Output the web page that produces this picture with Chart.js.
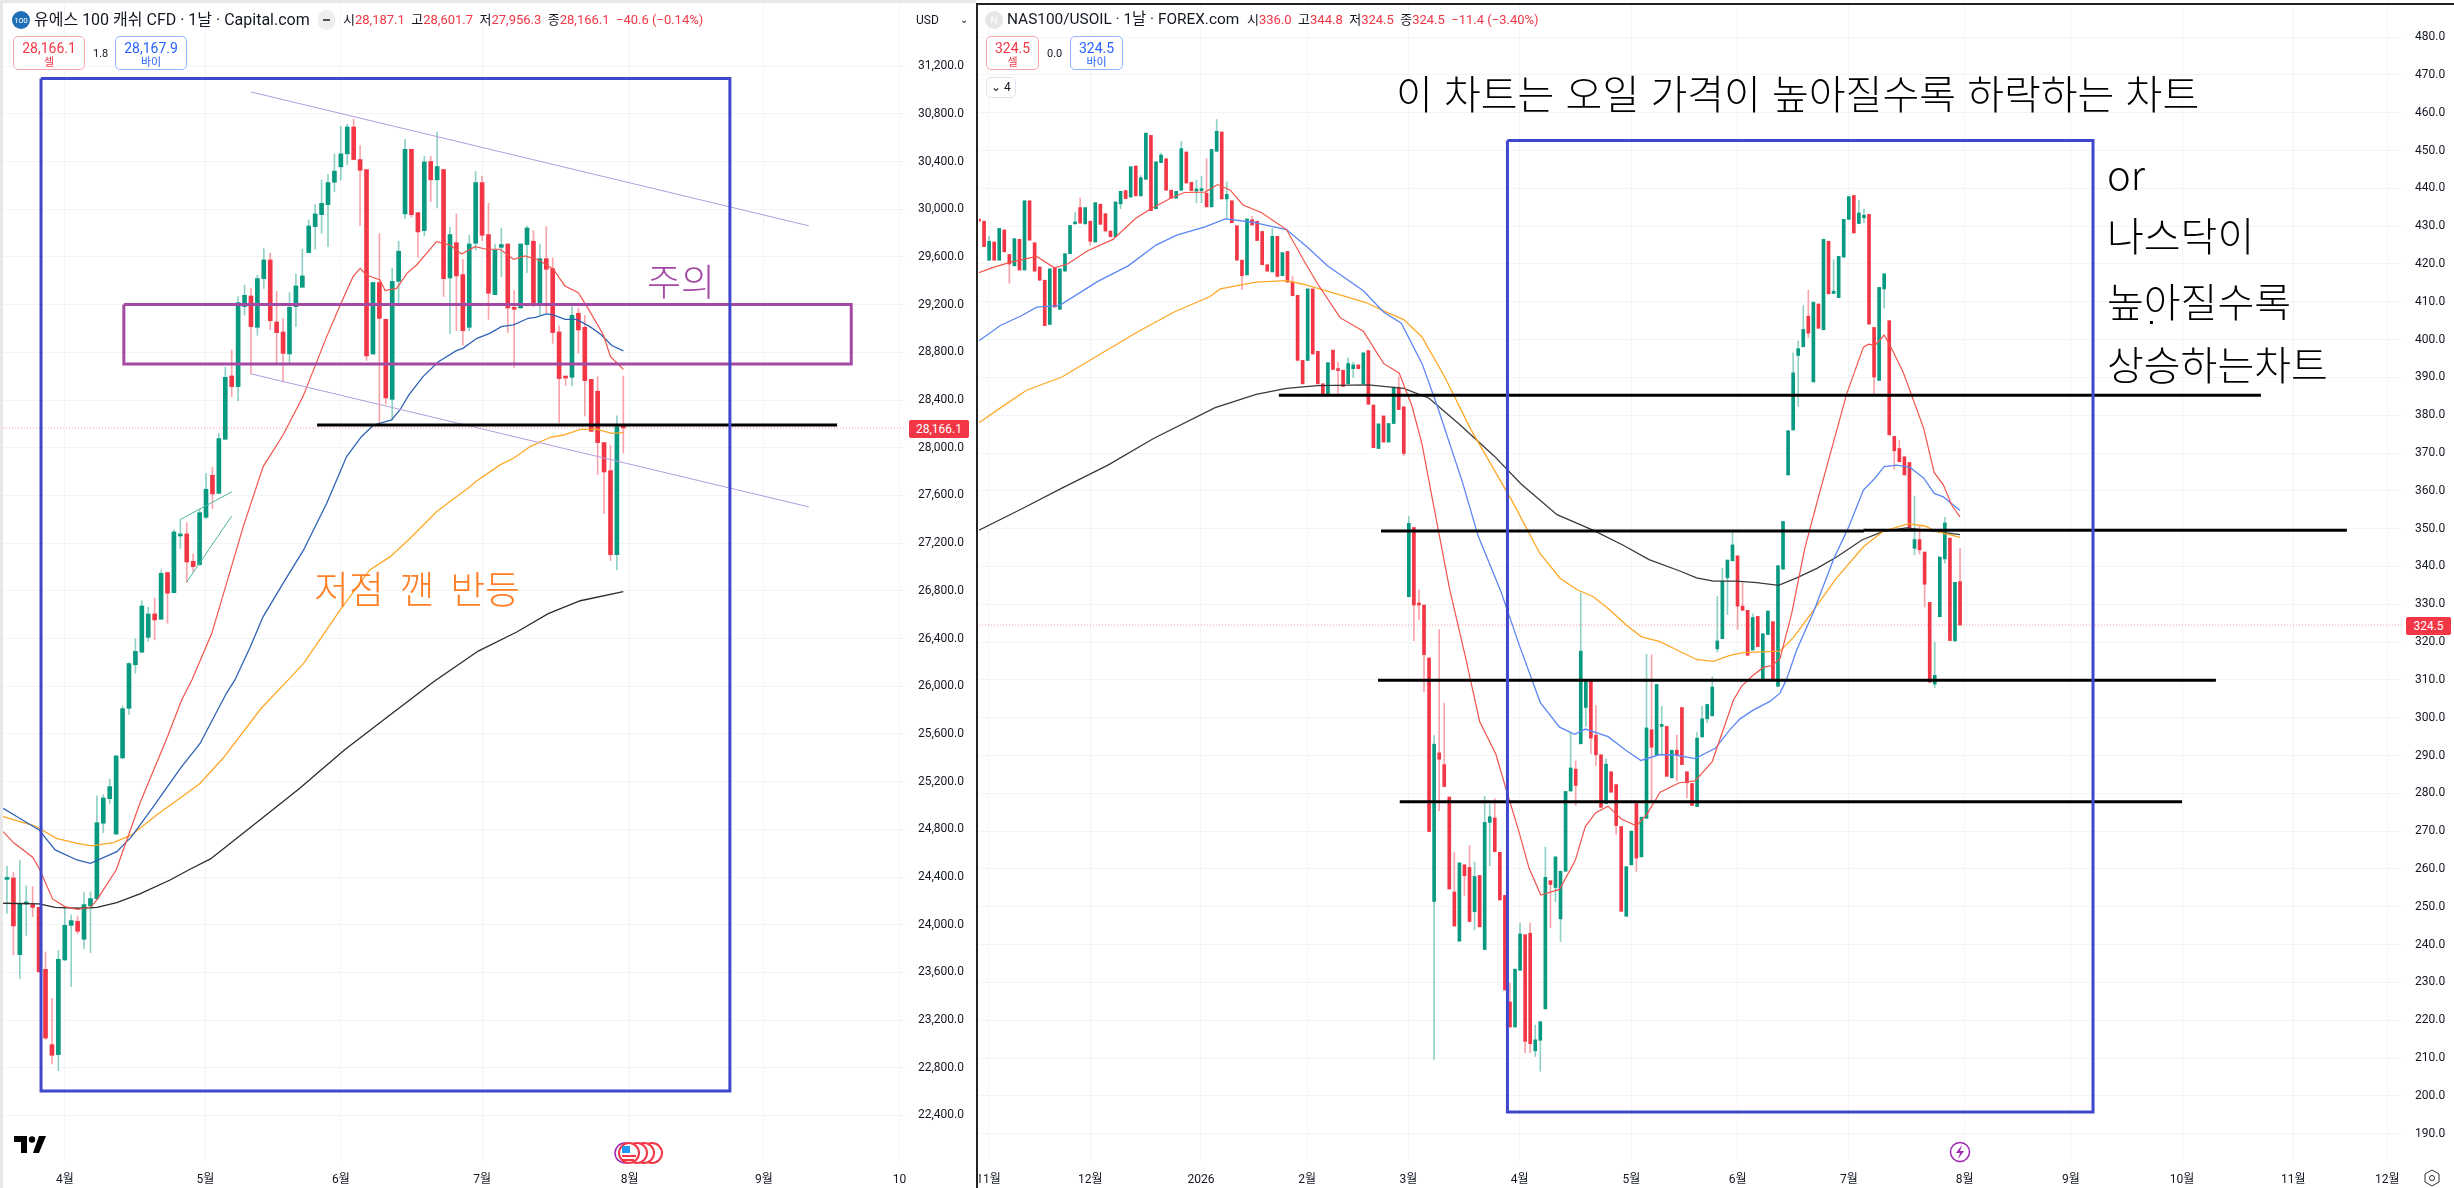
<!DOCTYPE html>
<html lang="ko">
<head>
<meta charset="UTF-8">
<title>NAS100 / USOIL</title>
<style>
  html, body { margin: 0; padding: 0; background: #fff; }
  body { width: 2454px; height: 1188px; overflow: hidden; position: relative;
         font-family: Roboto, "Noto Sans CJK KR", sans-serif; color: #131722; }
  canvas { position: absolute; top: 4px; }
  #leftChart { left: 3px; }
  #rightChart { left: 979px; }
  .strip { position: absolute; }
  .t { position: absolute; white-space: nowrap; line-height: 1; }
  .note { position: absolute; white-space: nowrap; line-height: 1; font-family: "Noto Sans CJK KR", sans-serif; font-weight: 300; }
  .red { color: #f23645; }
  .box { position: absolute; box-sizing: border-box; background: #fff; border-radius: 5px; text-align: center; font-size: 14px; padding-top: 4px; line-height: 15px; }
  .box small { display: block; font-size: 11px; line-height: 13px; }
  .tag { position: absolute; background: #f23645; color: #fff; font-size: 12px; text-align: center; border-radius: 2px; }
  svg { position: absolute; }
</style>
</head>
<body>
<div class="strip" style="left:0;top:0;width:3px;height:1188px;background:#e8e8e8"></div>
<div class="strip" style="left:0;top:0;width:976px;height:3px;background:#e8e8e8"></div>
<canvas id="leftChart" width="973" height="1184"></canvas>
<canvas id="rightChart" width="1475" height="1184"></canvas>
<div class="strip" style="left:976px;top:3px;width:2px;height:1185px;background:#222"></div>
<div class="strip" style="left:976px;top:3px;width:1478px;height:2px;background:#222"></div>

<!-- left header -->
<svg style="left:12px;top:11px" width="18" height="18"><circle cx="9" cy="9" r="9" fill="#1e6fb8"/><text x="9" y="12" font-size="8" fill="#fff" text-anchor="middle" font-family="Roboto">100</text></svg>
<div class="t" style="left:34px;top:12px;font-size:16px">유에스 100 캐쉬 CFD · 1날 · Capital.com</div>
<div class="t" style="left:318px;top:10px;width:17px;height:20px;border-radius:9px;background:#eee"></div>
<div class="t" style="left:323px;top:19px;width:7px;height:2px;background:#555"></div>
<div class="t" style="left:343px;top:13px;font-size:13px">시<span class="red">28,187.1</span>&nbsp; 고<span class="red">28,601.7</span>&nbsp; 저<span class="red">27,956.3</span>&nbsp; 종<span class="red">28,166.1</span>&nbsp; <span class="red">−40.6 (−0.14%)</span></div>
<div class="box red" style="left:13px;top:36px;width:72px;height:34px;border:1px solid #f7a5ad">28,166.1<small>셀</small></div>
<div class="t" style="left:93px;top:48px;font-size:11px">1.8</div>
<div class="box" style="left:115px;top:36px;width:72px;height:34px;border:1px solid #90b4ff;color:#2962ff">28,167.9<small>바이</small></div>
<div class="t" style="left:916px;top:14px;font-size:12px">USD</div>
<div class="t" style="left:960px;top:15px;font-size:10px">⌄</div>

<!-- right header -->
<svg style="left:985px;top:11px" width="18" height="18"><circle cx="9" cy="9" r="9" fill="#e6e6e6"/><text x="9" y="13" font-size="10" fill="#fff" text-anchor="middle" font-family="Roboto">N</text></svg>
<div class="t" style="left:1007px;top:12px;font-size:15.4px">NAS100/USOIL · 1날 · FOREX.com</div>
<div class="t" style="left:1247px;top:13px;font-size:13px">시<span class="red">336.0</span>&nbsp; 고<span class="red">344.8</span>&nbsp; 저<span class="red">324.5</span>&nbsp; 종<span class="red">324.5</span>&nbsp; <span class="red">−11.4 (−3.40%)</span></div>
<div class="box red" style="left:986px;top:36px;width:53px;height:34px;border:1px solid #f7a5ad">324.5<small>셀</small></div>
<div class="t" style="left:1047px;top:48px;font-size:11px">0.0</div>
<div class="box" style="left:1070px;top:36px;width:53px;height:34px;border:1px solid #90b4ff;color:#2962ff">324.5<small>바이</small></div>
<div class="box" style="left:986px;top:77px;width:30px;height:21px;border:1px solid #e0e3eb;padding-top:2px;font-size:12px">⌄ 4</div>

<!-- pasted notes -->
<div class="note" style="left:647px;top:262px;font-size:37px;color:#a349a4">주의</div>
<div class="note" style="left:314px;top:568px;font-size:38px;word-spacing:5px;color:#ff7f27">저점 깬 반등</div>
<div class="note" style="left:1396px;top:72px;font-size:40px;color:#000">이 차트는 오일 가격이 높아질수록 하락하는 차트</div>
<div class="note" style="left:2107px;top:153px;font-size:40px;color:#000">or</div>
<div class="note" style="left:2107px;top:214px;font-size:40px;color:#000">나스닥이</div>
<div class="note" style="left:2107px;top:280px;font-size:40px;color:#000">높아질수록</div>
<div class="note" style="left:2107px;top:343px;font-size:40px;color:#000">상승하는차트</div>
<div class="strip" style="left:2150px;top:321px;width:3px;height:3px;background:#000"></div>

<!-- price tags -->
<div class="tag" style="left:909px;top:420px;width:60px;height:18px;line-height:18px">28,166.1</div>
<div class="tag" style="left:2406px;top:617px;width:45px;height:18px;line-height:18px">324.5</div>

<!-- small icons -->
<svg style="left:14px;top:1135px" width="32" height="20" viewBox="0 0 32 20"><path d="M0 1h13v17H7V7H0z M19 18l6-17h7l-7 17z" fill="#000"/><circle cx="18" cy="4.5" r="3.2" fill="#000"/></svg>
<svg style="left:612px;top:1141px" width="56" height="24" viewBox="0 0 56 24">
  <circle cx="13" cy="12" r="10" fill="#fff" stroke="#9c27b0" stroke-width="1.5"/>
  <circle cx="40" cy="12" r="10" fill="#fff" stroke="#f23645" stroke-width="2"/>
  <circle cx="32" cy="12" r="10" fill="#fff" stroke="#f23645" stroke-width="2"/>
  <circle cx="25" cy="12" r="10" fill="#fff" stroke="#f23645" stroke-width="2"/>
  <circle cx="17" cy="12" r="10" fill="#fff" stroke="#f23645" stroke-width="2"/>
  <rect x="10" y="5" width="8" height="7" fill="#2196f3"/><rect x="10" y="14" width="14" height="2" fill="#f23645"/><rect x="10" y="18" width="12" height="2" fill="#f23645"/>
</svg>
<svg style="left:1949px;top:1141px" width="22" height="22" viewBox="0 0 22 22"><circle cx="11" cy="11" r="9.5" fill="#fff" stroke="#9c27b0" stroke-width="1.5"/><path d="M13 4l-6 8h4l-2 6 6-8h-4z" fill="#9c27b0"/></svg>
<svg style="left:2424px;top:1169px" width="16" height="18" viewBox="0 0 16 18"><path d="M8 1l7 4v8l-7 4-7-4V5z" fill="none" stroke="#333"/><circle cx="8" cy="9" r="2.5" fill="none" stroke="#333"/></svg>

<script src="https://cdn.jsdelivr.net/npm/chart.js"></script>
<script>
// left: US100 cash CFD, daily
const opensL = [24380,24392,23749,24174,24169,24146,23626,22994,22911,23705,23995,24029,23878,24157,24219,24851,25057,24761,25399,25815,26180,26286,26410,26606,26562,26953,26785,27260,27277,27048,27020,27417,27769,27618,28071,28602,28513,29184,29273,29010,29419,29575,29055,28971,28787,29184,29346,29637,29855,29955,30039,30227,30356,30465,30690,30417,30333,28786,29386,29077,28406,29396,29961,30503,29972,29821,30401,30247,30333,29424,29720,29452,29010,29715,30224,29788,29284,29681,29709,29178,29172,29704,29732,29217,29586,29502,28971,28591,28591,29128,29010,28574,28474,28043,27808,27104,28187]
const highsL = [24490,24437,24538,24325,24320,24146,23772,23380,23783,24152,24082,24073,24269,24275,25080,25091,25220,25420,25835,26199,26398,26717,26662,26740,26975,26958,27311,27400,27372,27109,27484,27786,27836,28121,28675,28820,29268,29363,29340,29446,29670,29631,29312,29083,29301,29458,29665,29911,30039,30246,30293,30465,30696,30715,30754,30535,30333,29386,29797,29077,29505,29732,30584,30503,29972,30446,30446,30648,30333,29849,29961,29581,29782,30317,30279,30050,29709,29843,29709,29318,29709,29860,29821,29709,29855,29592,29022,28591,29184,29172,29111,28574,28597,28043,28021,28267,28602]
const lowsL = [24095,23746,23548,23911,24068,23604,23039,22832,22776,23699,23481,23923,23800,23766,24208,24772,25018,24756,25393,25764,26110,26279,26377,26388,26562,26528,26785,27154,26869,26958,27014,27406,27490,27612,28071,28429,28395,29111,28619,28943,29335,28988,28708,28552,28703,29016,29346,29637,29665,29799,29687,30150,30247,30375,30417,29862,28732,28786,28209,28367,28233,29212,29924,29933,29597,29776,30064,30011,29268,28954,28982,28860,28982,29659,29737,29077,29284,29435,28966,28675,29172,29469,29184,29117,29133,28876,28211,28524,28518,28792,28267,28138,27775,27450,27054,26975,27956]
const closesL = [24390,23990,24180,24185,24146,23604,23050,22905,23710,23995,24034,23945,24169,24219,24856,25063,25158,25415,25812,26190,26292,26673,26606,26556,26947,26780,27294,27277,27042,27003,27456,27652,27613,28077,28591,28513,29217,29279,29016,29419,29575,29066,28966,28792,29178,29357,29441,29860,29961,30050,30224,30320,30465,30690,30417,30327,28770,29386,29085,28418,29396,29648,30503,29955,29810,30397,30247,30359,29418,29788,29441,28982,29709,30224,29782,29296,29659,29704,29172,29161,29709,29843,29200,29586,29497,28966,28580,28585,29111,28988,28563,28138,28043,27797,27104,28177,28166]

// moving averages, read as [bar, value]
const redL = [[-0.6,24781],[1,24689],[4,24566],[5,24473],[7.1,24216],[9,24152],[11,24129],[13,24146],[14,24208],[17,24459],[20.7,25018],[25,25577],[27.2,25885],[28.8,26053],[31.9,26444],[36.8,27339],[39.9,27842],[43,28107],[46.1,28429],[49.8,28932],[51.9,29198],[53.9,29435],[55,29505],[56,29449],[58.1,29407],[58.9,29318],[60.7,29337],[62.3,29463],[63.8,29533],[66.9,29729],[69,29701],[70.8,29625],[72.9,29687],[74.7,29665],[76.8,29665],[78.9,29581],[80.7,29609],[82.8,29575],[85.1,29497],[86.9,29357],[89,29301],[90.8,29142],[92.9,28946],[94,28764],[96,28658]]
const blueL = [[-0.6,24976],[1.5,24907],[5,24795],[7.5,24627],[10.9,24543],[13,24515],[17.1,24613],[19.4,24739],[22.8,24990],[27,25312],[30.1,25522],[31.7,25688],[34.2,25943],[35.5,26053],[37.9,26332],[39.9,26584],[43,26863],[46.2,27143],[49.8,27534],[52.9,27926],[55.2,28093],[57.1,28191],[59.9,28233],[61.2,28317],[62.6,28443],[64.8,28597],[67.2,28722],[70,28815],[71,28834],[73.2,28918],[75.2,28960],[77,29016],[78.9,29030],[81.2,29086],[82.3,29094],[84,29122],[85.1,29114],[86.9,29077],[88.7,29077],[90.8,29016],[92.6,28946],[94.2,28857],[96,28812]]
const orangeL = [[-0.6,24907],[2,24865],[4.4,24828],[7.7,24725],[10.9,24683],[13.2,24661],[16.6,24689],[19.4,24753],[23.3,24921],[28,25102],[30.1,25186],[33.7,25400],[39.6,25815],[43.8,26053],[46.2,26192],[51.9,26640],[56.5,26975],[59.7,27087],[62.8,27241],[66.9,27464],[70,27590],[71.8,27660],[73.2,27724],[76.8,27856],[78.9,27912],[81.5,28010],[84.6,28088],[86.7,28107],[89.3,28155],[91.9,28155],[94.2,28121],[96,28127]]
const blackL = [[-0.6,24180],[5,24174],[7.5,24146],[11.4,24138],[14,24146],[17.1,24185],[20.7,24258],[25.4,24375],[28.5,24465],[31.7,24552],[38.1,24824],[45.6,25144],[52.5,25464],[59.5,25752],[66.5,26039],[73.4,26295],[79.4,26455],[84.3,26609],[89.3,26717],[96,26794]]

// right: NAS100/USOIL, daily
const opensR = [431.9,431.3,421.0,425.8,421.0,429.0,422.5,419.5,426.5,418.4,436.7,425.6,419.2,415.7,404.0,418.9,408.0,418.1,422.7,430.6,434.9,430.6,431.3,425.8,435.8,433.3,428.7,427.2,435.9,439.4,437.7,445.9,438.0,442.4,454.0,434.6,446.8,447.8,439.5,437.4,439.5,449.6,441.6,439.3,439.4,438.7,435.1,449.8,454.9,437.2,436.7,430.1,421.0,417.1,431.7,431.3,428.6,419.8,417.9,427.3,416.9,423.3,415.2,411.7,394.5,394.5,413.4,396.9,388.3,385.2,397.2,392.1,391.9,388.3,392.3,393.3,388.3,397.1,382.7,371.2,379.8,372.9,377.8,387.4,382.2,332.0,350.3,330.2,329.8,315.8,251.4,290.7,287.6,279.0,253.9,240.9,261.1,260.4,248.7,258.3,238.7,272.3,273.5,264.4,253.0,224.8,218.2,233.2,242.6,243.0,211.9,214.7,223.0,256.9,255.1,246.8,259.4,280.6,286.4,293.1,302.7,309.6,295.4,290.2,277.3,285.7,282.3,271.2,247.5,261.1,277.3,263.2,273.4,296.8,290.2,297.7,297.7,284.1,291.4,302.7,285.7,282.6,276.5,294.9,299.7,300.5,318.2,320.9,337.0,341.5,342.8,329.5,328.4,317.9,326.8,310.2,322.0,325.4,308.3,339.3,364.2,376.1,395.8,398.1,406.2,388.8,409.4,402.6,426.0,412.2,411.1,421.8,431.8,438.1,430.7,432.2,433.1,403.2,389.2,413.4,405.0,374.4,371.2,369.0,367.5,344.8,347.1,343.8,330.5,308.9,326.7,342.0,347.5,320.3,336.0]
const highsR = [431.9,431.3,427.3,425.8,429.4,429.0,422.5,426.7,426.5,436.7,436.7,425.6,419.2,415.7,418.7,418.9,418.7,422.7,430.2,433.6,437.4,434.9,431.3,436.2,435.8,433.3,428.7,436.4,439.2,439.4,445.7,445.9,443.4,454.6,454.0,447.0,449.3,447.8,439.5,439.2,452.4,449.6,441.6,442.2,443.2,447.8,450.3,458.2,454.9,441.7,436.7,430.1,421.0,431.9,432.6,431.3,428.6,419.8,429.4,427.3,423.0,423.3,416.7,411.7,394.5,413.4,413.4,396.9,388.3,393.9,397.2,394.0,391.9,395.2,394.0,393.3,396.5,397.1,382.7,377.7,379.8,377.8,387.4,390.1,382.2,353.2,350.3,333.8,329.8,315.8,295.3,323.3,303.8,279.0,264.4,261.6,261.1,266.2,261.8,258.3,279.2,277.1,278.6,264.4,253.0,229.8,233.5,245.7,242.6,245.7,218.7,219.6,265.8,256.9,263.2,259.4,280.5,296.0,288.6,333.0,310.1,309.6,303.3,290.2,289.1,285.7,282.3,271.2,260.6,270.0,277.3,273.7,316.8,316.6,308.8,303.0,297.7,291.4,295.4,302.7,285.7,282.6,296.2,303.0,303.5,310.8,332.0,339.5,341.7,348.9,342.8,335.7,328.4,327.5,326.8,322.2,328.2,325.4,340.2,351.9,375.9,396.5,399.6,409.0,413.1,409.9,409.4,426.5,426.0,421.1,422.0,431.8,437.8,438.1,436.9,434.5,433.1,403.2,413.8,417.4,405.0,374.4,373.4,369.0,367.5,358.6,350.7,343.8,330.5,320.0,342.5,353.0,347.5,335.8,344.8]
const lowsR = [431.3,424.6,421.0,421.0,421.0,423.2,414.9,419.5,418.4,418.4,426.3,418.1,415.7,403.7,404.0,408.6,408.0,418.1,422.7,430.6,430.8,430.6,425.0,425.8,430.5,428.7,427.2,427.2,434.6,437.3,437.7,438.0,438.0,442.4,434.1,434.6,446.8,439.5,437.4,437.4,439.5,441.4,439.4,436.2,436.2,435.1,435.1,449.8,437.2,432.1,430.9,421.0,413.2,417.1,430.3,426.2,419.8,418.1,417.9,416.7,416.9,415.2,411.6,394.5,388.3,394.5,396.2,388.3,385.2,385.2,392.1,385.0,387.6,388.3,390.0,392.3,388.3,382.9,371.4,371.2,372.9,372.9,377.8,381.5,369.3,332.0,320.4,326.0,306.8,269.9,209.6,275.4,281.8,254.7,244.9,240.9,252.9,246.1,243.9,244.7,238.7,260.8,264.6,251.8,228.0,218.2,218.2,233.2,211.4,211.4,210.4,206.5,223.0,244.5,251.3,240.8,259.4,280.6,276.8,293.1,297.7,290.4,287.4,276.3,277.3,280.3,269.2,248.8,247.5,261.1,259.3,263.2,273.4,277.8,290.2,290.2,284.5,284.1,283.3,287.6,278.8,276.8,276.5,294.9,298.7,300.5,317.4,320.9,327.3,341.5,323.4,328.4,316.5,317.9,318.8,310.2,322.0,310.2,308.3,339.3,364.2,376.1,382.3,398.1,400.5,388.8,403.0,402.6,412.1,412.2,411.1,421.8,431.8,428.2,430.7,430.9,404.1,385.7,389.2,408.3,374.8,365.7,367.7,364.2,350.2,343.1,343.3,329.3,309.4,308.0,326.7,340.9,320.4,320.3,324.5]
const closesR = [431.3,424.6,426.0,421.0,429.4,423.2,420.0,426.7,418.4,436.7,426.3,418.1,415.7,403.7,418.7,408.6,418.7,422.7,430.2,431.1,430.8,434.9,426.0,436.2,430.5,428.7,427.2,436.4,439.2,437.3,445.7,438.0,442.8,454.6,434.1,447.0,448.8,439.5,437.4,439.2,450.5,441.4,439.4,439.7,439.7,435.1,450.3,455.1,437.2,438.4,430.9,421.0,416.9,431.9,430.3,426.2,419.8,418.1,427.3,416.7,423.0,415.2,411.6,394.5,388.3,413.4,396.2,388.3,385.2,393.9,392.1,391.8,387.6,393.7,393.3,392.3,396.5,382.9,371.4,377.7,372.9,377.8,387.4,381.5,369.9,351.4,329.8,329.8,316.7,269.9,293.0,289.0,281.8,254.7,244.9,261.6,258.2,246.1,258.0,244.7,272.3,273.8,264.6,251.8,228.0,218.2,233.5,242.8,214.4,213.8,214.8,219.6,257.8,255.9,263.2,259.4,280.5,286.7,282.1,317.6,310.1,294.6,290.2,276.3,287.7,280.3,271.5,248.8,260.6,270.0,262.9,273.7,297.3,292.2,308.8,298.1,284.5,291.4,290.2,287.6,282.8,276.8,294.6,299.7,303.5,308.1,320.3,336.1,341.7,345.7,329.5,328.4,316.5,326.5,318.8,322.2,328.2,310.2,340.2,351.9,375.9,391.2,397.6,402.7,401.7,409.9,403.0,426.5,412.1,412.8,422.0,431.8,437.8,428.2,433.5,432.9,404.1,390.1,413.8,417.4,374.8,370.6,367.7,364.2,350.2,347.1,344.4,335.3,309.4,311.2,342.5,351.5,320.4,335.8,324.5]

const redR = [[0,417.7],[2.8,419.1],[6.3,420.5],[11.4,422],[14.9,419],[17.5,420],[21.5,423.5],[26.5,426.5],[31,432.1],[34,434.6],[37.6,437.2],[40.6,438.9],[44.7,439],[47.2,441],[49.7,439.5],[52.2,435.6],[55.8,433.6],[60.8,429.1],[64.4,420.5],[66.9,414.9],[71.4,405.8],[76,402.2],[80,393.7],[83.1,391.1],[85.6,382.5],[87.6,372.4],[89.6,358.2],[93.1,333.8],[96.1,316.6],[99,299],[102.2,290.4],[104.4,280.3],[106.7,270.2],[108.8,260.1],[111.1,253.1],[114.8,254.6],[117.9,262.2],[119.9,271.2],[121.9,274.8],[124.4,276.6],[127,273.2],[130,271.4],[132,274.3],[134.7,280.3],[138.5,282.8],[141.6,283.3],[145,288.4],[149.2,304.7],[150.8,308.3],[152.8,310.9],[155.1,313.3],[156.8,313.8],[158.4,315.6],[160.7,327.5],[163.3,344.8],[166,358.4],[169,373],[171.6,385.7],[174.9,398],[175.9,398.8],[177.2,398.5],[179,401.2],[180.5,397.6],[182.8,391.2],[186.8,376.6],[188.9,364.8],[190.7,361.6],[192.4,356.1],[194,353.1]]
const blueR = [[0,399.7],[4.3,403.8],[8.4,406.3],[11.4,408.6],[15.9,409],[23.5,415.4],[29.5,419.5],[35,425],[39.1,427.6],[44.7,429.8],[48.7,431.9],[53.8,431.1],[60.8,429.1],[64.9,424.5],[68.9,419.5],[76,412.9],[80,407.3],[83.5,404.3],[87.6,393.7],[90.6,382.5],[95.6,362.3],[98.7,348.1],[103.2,333.4],[107,318.6],[111,304],[114.8,297.5],[117.8,295.6],[119.9,297],[124.4,295],[127.9,291.4],[130.9,288.7],[134.5,290.2],[137.5,290.2],[141.6,289.2],[145.6,291.9],[148.6,297],[150.5,299.7],[153.1,302],[156.4,304.3],[158.4,306.5],[159.7,310.2],[161.7,317.9],[165,327.9],[169,342],[171.9,350.2],[174.9,360.2],[177.2,363.4],[179,366.4],[181.5,366.8],[184.1,366.2],[186.8,363.4],[188.9,359.3],[190.7,358.4],[194,354.8]]
const orangeR = [[0,378],[4.3,382],[9.4,386.6],[16.4,390.1],[24,396.2],[31.6,402.2],[38.6,407.3],[45.7,411.4],[47.7,413.4],[54.8,415.2],[60.8,415.6],[63.9,414.7],[69.9,412.4],[76.5,409.8],[81,407],[84,405.3],[87.6,400.7],[92.1,390.1],[97.2,376.4],[105.3,357.6],[110.9,343.5],[114.9,336.9],[118.2,333.9],[121.5,332],[124.4,328.9],[128,324.5],[131,321.4],[134.7,320.1],[138,317.9],[141.9,315.4],[145.2,314.9],[148.5,316.5],[151.1,317.2],[158.4,317.6],[161,321.1],[165,328.4],[169.6,337],[174.9,345.2],[178.8,349.3],[183.8,351.3],[187,350.7],[189.4,349.3],[194,347.7]]
const blackR = [[0,349.6],[8.4,355.2],[16.4,360.7],[25.5,366.8],[34.6,373.9],[46.7,382],[54.8,385.5],[60.8,387.1],[66.9,387.8],[77,388],[84,387.1],[89,384.5],[95.1,377.5],[101.8,369.3],[107.2,361.8],[114.3,353.7],[121.4,349.6],[127.4,345.6],[132.5,341.8],[138.6,338.8],[141.9,337],[145.2,336.1],[149.8,336.1],[153.8,335.7],[158.1,335],[161.7,337],[165.7,339.5],[169.6,342.5],[174.6,347],[178.8,349.3],[183.4,350.2],[188,349.5],[194,348.4]]

// axis ticks
const priceTicksL = [22400,22800,23200,23600,24000,24400,24800,25200,25600,26000,26400,26800,27200,27600,28000,28400,28800,29200,29600,30000,30400,30800,31200]
const priceTicksR = [190,200,210,220,230,240,250,260,270,280,290,300,310,320,330,340,350,360,370,380,390,400,410,420,430,440,450,460,470,480]
const monthBarsL = [9,30.9,52,74,97,117.9,139]
const monthNamesL = ['4월','5월','6월','7월','8월','9월','10']
const monthBarsR = [1.9,22,43.9,64.9,84.9,106.9,129,150,172,194.9,215.9,237.9,259.9,278.5]
const monthNamesR = ['11월','12월','2026','2월','3월','4월','5월','6월','7월','8월','9월','10월','11월','12월']

// things drawn over the charts, in bar / price units
const lastPriceL = 28166.1
const lastPriceR = 324.5
const boxBlueL = [[5.3,31097],[112.6,31097],[112.6,22606],[5.3,22606],[5.3,31097]]
const boxPurpleL = [[18.2,29201],[131.5,29201],[131.5,28703],[18.2,28703],[18.2,29201]]
const levelL = [[48.3,28191],[129.3,28191]]
const channelTopL = [[38,30984],[124.9,29861]]
const channelBottomL = [[38,28620],[124.9,27504]]
const wedgeTopL = [[27.05,27400],[35,27630]]
const wedgeBottomL = [[28,26875],[35,27428]]
const boxBlueR = [[104.5,452.65],[220.3,452.65],[220.3,195.7],[104.5,195.7],[104.5,452.65]]
const level1R = [[59.3,385.3],[253.5,385.3]]
const level2R = [[79.5,349.4],[175,349.4]]
const level3R = [[174.9,349.55],[270.5,349.55]]
const level4R = [[78.9,309.9],[244.6,309.9]]
const level5R = [[83.2,277.8],[237.9,277.8]]

const UP = '#089981', DOWN = '#f23645'
const UP_WICK = 'rgba(8,153,129,0.45)', DOWN_WICK = 'rgba(242,54,69,0.45)'
const AXIS_FONT = { family: 'Roboto, "Noto Sans CJK KR", sans-serif', size: 12 }

const toPoints = pairs => pairs.map(p => ({ x: p[0], y: p[1] }))

function lineSet(pairs, color, width, order, dash) {
    return {
        type: 'line', data: toPoints(pairs), borderColor: color, borderWidth: width,
        borderDash: dash || [], pointRadius: 0, tension: 0, order: order, fill: false, spanGaps: true
    }
}

function drawChart(id, c) {
    const isUp = c.opens.map((o, i) => c.closes[i] >= o)
    const wicks = {
        type: 'bar', order: 20, grouped: false, barThickness: 1, borderWidth: 0,
        data: c.highs.map((h, i) => ({ x: i, y: [c.lows[i], h] })),
        backgroundColor: isUp.map(u => u ? UP_WICK : DOWN_WICK)
    }
    const bodies = {
        type: 'bar', order: 10, grouped: false, barThickness: c.bodyWidth, borderWidth: 0, minBarLength: 2,
        data: c.opens.map((o, i) => ({ x: i, y: [o, c.closes[i]] })),
        backgroundColor: isUp.map(u => u ? UP : DOWN)
    }
    return new Chart(document.getElementById(id), {
        type: 'bar',
        data: { datasets: [wicks, bodies].concat(c.lines) },
        options: {
            responsive: false,
            animation: false,
            layout: { padding: 0 },
            plugins: { legend: { display: false }, tooltip: { enabled: false } },
            scales: {
                x: {
                    type: 'linear', offset: false, min: c.xMin, max: c.xMax,
                    grid: { color: '#f3f4f6', offset: false, drawTicks: false },
                    border: { display: false },
                    ticks: {
                        autoSkip: false, maxRotation: 0, padding: 11, color: '#131722', font: AXIS_FONT,
                        callback: (v, i) => c.monthNames[i]
                    },
                    afterBuildTicks: s => { s.ticks = c.monthBars.map(v => ({ value: v })) },
                    // the labels must not push the plot area in
                    afterFit: s => { s.height = 26; s.paddingLeft = 0; s.paddingRight = 0 }
                },
                y: {
                    position: 'right', min: c.yMin, max: c.yMax,
                    grid: { color: '#f3f4f6', drawTicks: false },
                    border: { display: false },
                    ticks: {
                        padding: c.labelPad, color: '#131722', font: AXIS_FONT, autoSkip: false,
                        callback: v => v.toLocaleString('en-US', { minimumFractionDigits: 1, maximumFractionDigits: 1 })
                    },
                    afterBuildTicks: s => { s.ticks = c.priceTicks.map(v => ({ value: v })) },
                    afterFit: s => { s.width = c.axisWidth; s.paddingTop = 0; s.paddingBottom = 0 }
                }
            }
        }
    })
}

const xMinL = -0.623, xMaxL = 140.03
drawChart('leftChart', {
    opens: opensL, highs: highsL, lows: lowsL, closes: closesL, bodyWidth: 4,
    xMin: xMinL, xMax: xMaxL, yMin: 22010, yMax: 31721.6, labelPad: 12, axisWidth: 70,
    priceTicks: priceTicksL, monthBars: monthBarsL, monthNames: monthNamesL,
    lines: [
        lineSet([[xMinL, lastPriceL], [xMaxL, lastPriceL]], 'rgba(242,54,69,0.45)', 1, 9, [1, 2]),
        lineSet(blackL, '#2b2b2b', 1.3, 8),
        lineSet(orangeL, '#ffa726', 1.3, 7),
        lineSet(blueL, '#2f62b5', 1.3, 6),
        lineSet(redL, '#f2544b', 1.2, 5),
        lineSet(channelTopL, '#b39ddb', 1, 4),
        lineSet(channelBottomL, '#b39ddb', 1, 4),
        lineSet(wedgeTopL, '#4db6a0', 1, 4),
        lineSet(wedgeBottomL, '#4db6a0', 1, 4),
        lineSet(levelL, '#000', 3, 3),
        lineSet(boxPurpleL, '#a349a4', 3, 2),
        lineSet(boxBlueL, '#3f48cc', 3, 1)
    ]
})

const xMaxR = 281.4
drawChart('rightChart', {
    opens: opensR, highs: highsR, lows: lowsR, closes: closesR, bodyWidth: 3,
    xMin: 0, xMax: xMaxR, yMin: 182.5, yMax: 488.75, labelPad: 13, axisWidth: 52,
    priceTicks: priceTicksR, monthBars: monthBarsR, monthNames: monthNamesR,
    lines: [
        lineSet([[0, lastPriceR], [xMaxR, lastPriceR]], 'rgba(242,54,69,0.45)', 1, 9, [1, 2]),
        lineSet(blackR, '#3a3a3a', 1.3, 8),
        lineSet(orangeR, '#ffa726', 1.3, 7),
        lineSet(blueR, '#5b86f5', 1.3, 6),
        lineSet(redR, '#f2544b', 1.2, 5),
        lineSet(level1R, '#000', 3, 3),
        lineSet(level2R, '#000', 3, 3),
        lineSet(level3R, '#000', 3, 3),
        lineSet(level4R, '#000', 3, 3),
        lineSet(level5R, '#000', 3, 3),
        lineSet(boxBlueR, '#3f48cc', 3, 1)
    ]
})
</script>
</body>
</html>
